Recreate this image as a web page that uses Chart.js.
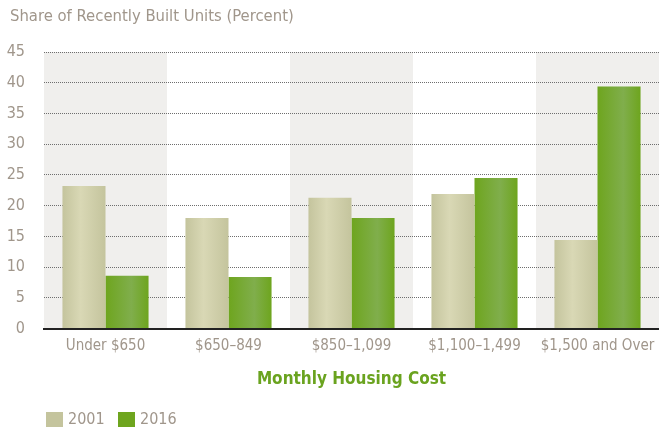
<!DOCTYPE html>
<html>
<head>
<meta charset="utf-8">
<script src="https://cdn.jsdelivr.net/npm/chart.js@4/dist/chart.umd.min.js"></script>
<style>
  html, body { margin: 0; padding: 0; background: #fff; }
  canvas { display: block; }
</style>
</head>
<body>
<canvas id="myChart" width="659" height="429"></canvas>
<script>
// data
const categories = ['Under $650', '$650\u2013849', '$850\u20131,099', '$1,100\u20131,499', '$1,500 and Over'];
const seriesLabels = ['2001', '2016'];
const values2001 = [23.2, 18.0, 21.3, 21.9, 14.4];
const values2016 = [8.6, 8.4, 18.0, 24.5, 39.4];
const yTicks = [0, 5, 10, 15, 20, 25, 30, 35, 40, 45];
const yTitle = 'Share of Recently Built Units (Percent)';

const FONT = "'Liberation Sans Narrow', 'DejaVu Sans Condensed', sans-serif";
const greyText = '#a0968b';
const colors2001 = ['#c4c49d', '#d9d8b5'];
const colors2016 = ['#6ea51e', '#80ae4c'];
const catPct = 0.7;

function barFill(c) {
  const chart = c.chart;
  const xs = chart.scales.x;
  const base = c.datasetIndex === 0 ? colors2001 : colors2016;
  if (!xs || !chart.chartArea || c.dataIndex === undefined) return base[0];
  const cw = xs.width / categories.length;
  const bw = cw * catPct / 2;
  const cx = xs.getPixelForValue(c.dataIndex);
  const left = c.datasetIndex === 0 ? cx - bw : cx;
  const g = chart.ctx.createLinearGradient(left, 0, left + bw, 0);
  const peak = c.datasetIndex === 0 ? 0.42 : 0.6;
  g.addColorStop(0, base[0]);
  g.addColorStop(peak, base[1]);
  g.addColorStop(1, base[0]);
  return g;
}

// alternating column shading behind the grid
const bands = {
  id: 'bands',
  beforeDraw(chart) {
    const {ctx, chartArea, scales} = chart;
    const cw = scales.x.width / categories.length;
    ctx.save();
    ctx.fillStyle = '#f0efed';
    for (let i = 0; i < categories.length; i += 2) {
      ctx.fillRect(chartArea.left + i * cw, chartArea.top, cw, chartArea.bottom - chartArea.top);
    }
    ctx.restore();
  }
};

// title top left + small legend bottom left
const extras = {
  id: 'extras',
  afterDraw(chart) {
    const ctx = chart.ctx;
    const cols = [colors2001[0], colors2016[0]];
    const xs = [46, 118];
    ctx.save();
    ctx.textBaseline = 'middle';
    ctx.font = '16.5px ' + FONT;
    ctx.fillStyle = greyText;
    ctx.fillText(yTitle, 10, 17);
    ctx.font = '16px ' + FONT;
    seriesLabels.forEach(function (lab, i) {
      ctx.fillStyle = cols[i];
      ctx.fillRect(xs[i], 412, 17, 15);
      ctx.fillStyle = greyText;
      ctx.fillText(lab, xs[i] + 22, 420);
    });
    ctx.restore();
  }
};

new Chart(document.getElementById('myChart'), {
  type: 'bar',
  data: {
    labels: categories,
    datasets: [{
      label: seriesLabels[0],
      data: values2001,
      backgroundColor: barFill
    }, {
      label: seriesLabels[1],
      data: values2016,
      backgroundColor: barFill
    }]
  },
  options: {
    responsive: false,
    animation: false,
    datasets: { bar: { categoryPercentage: catPct, barPercentage: 1.0 } },
    layout: { padding: { left: 0, right: 0, top: 52, bottom: 39 } },
    plugins: {
      legend: { display: false },
      tooltip: { enabled: false },
      title: { display: false }
    },
    scales: {
      x: {
        afterFit: function (s) { s.paddingLeft = 0; s.paddingRight = 0; },
        grid: { display: false, drawTicks: false },
        border: { display: true, color: '#222', width: 2 },
        ticks: { color: greyText, font: { family: FONT, size: 15 }, padding: 9, maxRotation: 0, autoSkip: false },
        title: {
          display: true,
          text: 'Monthly Housing Cost',
          color: '#6aa31f',
          font: { family: FONT, size: 17, weight: 'bold', lineHeight: 1.2 },
          padding: { top: 5, bottom: 0 }
        }
      },
      y: {
        min: 0,
        max: 45,
        afterFit: function (s) { s.width = 44; s.paddingTop = 0; },
        afterBuildTicks: function (s) { s.ticks = yTicks.map(function (v) { return {value: v}; }); },
        grid: {
          drawTicks: false,
          color: function (c) { return c.tick && c.tick.value === 0 ? 'rgba(0,0,0,0)' : '#6e6e6e'; },
          lineWidth: 1
        },
        border: { display: false, dash: [1, 1] },
        ticks: { color: greyText, font: { family: FONT, size: 16 }, padding: 19 }
      }
    }
  },
  plugins: [bands, extras]
});
</script>
</body>
</html>
